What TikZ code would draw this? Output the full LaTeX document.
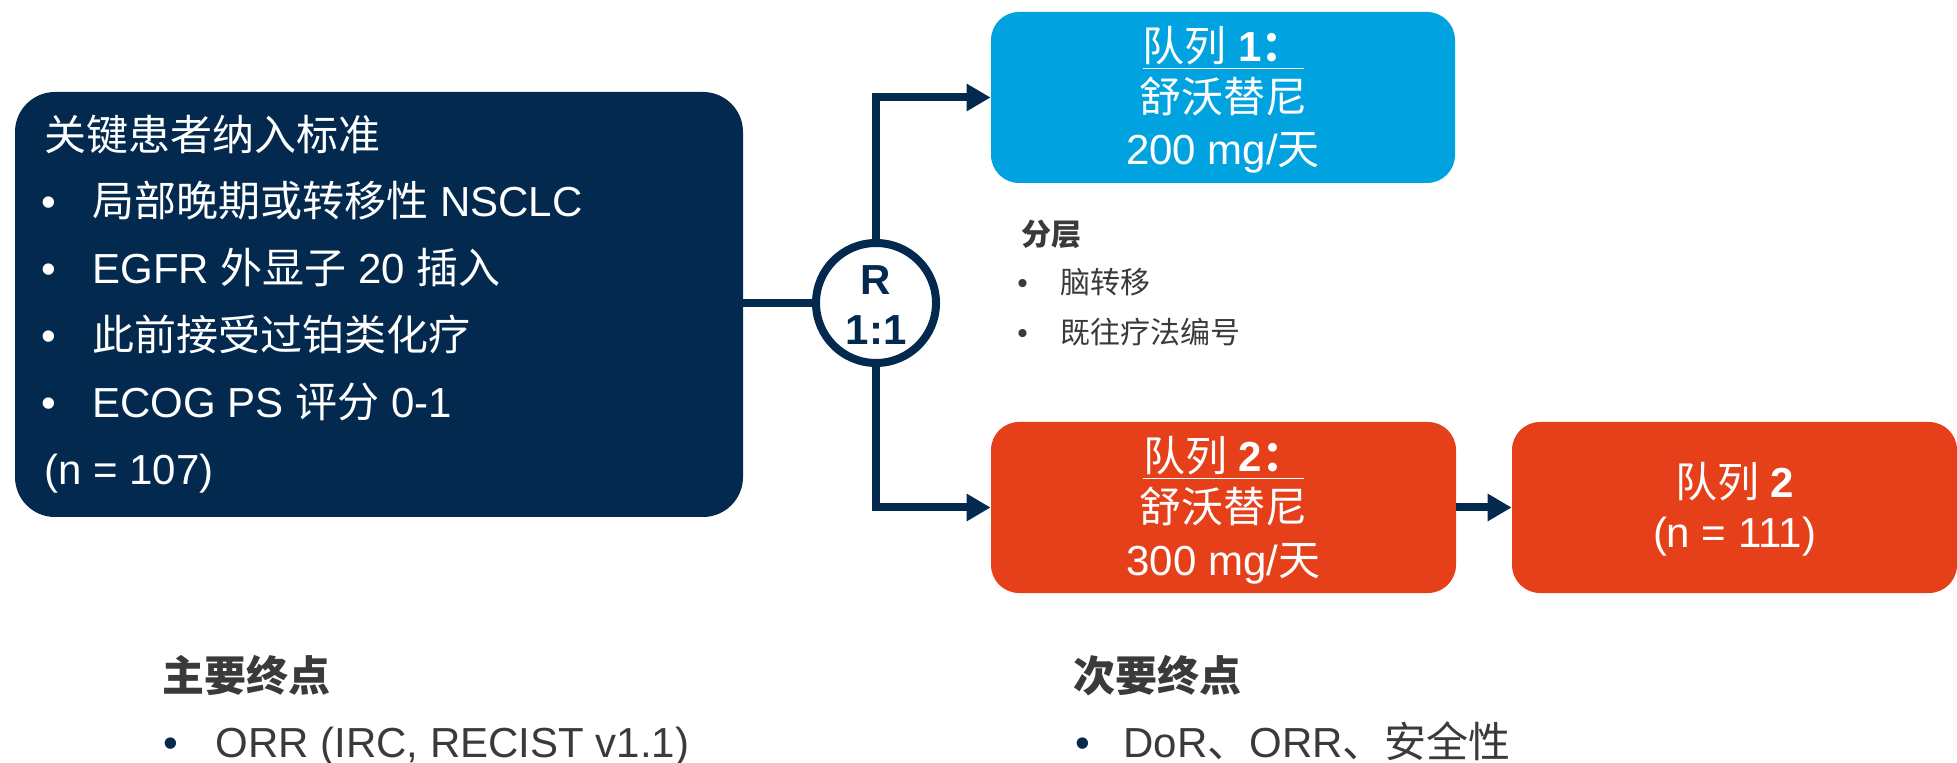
\documentclass[tikz,border=0pt]{standalone}
\usepackage{fontspec}
\setmainfont{Liberation Sans}
\newfontfamily\cjkf{Noto Sans CJK SC}
\newcommand{\cj}[1]{{\cjkf #1}}
\newcommand{\myfs}[1]{\fontsize{#1}{#1}\selectfont}
\usetikzlibrary{arrows.meta}
\definecolor{navy}{HTML}{03294F}
\definecolor{sky}{HTML}{00A3E0}
\definecolor{orng}{HTML}{E5401A}
\definecolor{txtgray}{HTML}{3A3A3A}
\begin{document}
\begin{tikzpicture}[x=0.5pt,y=-0.5pt,
  box/.style={rounded corners=14pt, inner sep=0pt, draw=none},
  conn/.style={draw=navy, line width=4pt},
  arr/.style={conn, -{Triangle[length=12pt,width=13pt]}},
  wt/.style={text=white, font=\myfs{21}, inner sep=0pt, anchor=base},
  lt/.style={text=white, font=\myfs{21}, inner sep=0pt, anchor=base west},
  gt/.style={text=txtgray, inner sep=0pt, anchor=base west},
  ct/.style={text=navy, font=\myfs{21}\bfseries, inner sep=0pt, anchor=base}]
\useasboundingbox (0,0) rectangle (1957,763);

% boxes
\node[box, fill=navy, rounded corners=20pt, minimum width=364pt, minimum height=212.5pt] (L) at (379,304.5) {};
\node[box, fill=sky, minimum width=232pt, minimum height=85.5pt] (B1) at (1223,97.5) {};
\node[box, fill=orng, minimum width=232.5pt, minimum height=85.5pt] (B2) at (1223.5,507.5) {};
\node[box, fill=orng, minimum width=222.5pt, minimum height=85.5pt] (B3) at (1734.5,507.5) {};
\node[circle, draw=navy, line width=4pt, fill=white, minimum size=60pt, inner sep=0pt] (C) at (876,303) {};

% connectors
\draw[conn] (L.east |- C.west) -- (C.west);
\draw[arr] (C.north) |- (B1.west);
\draw[arr] (C.south) |- (B2.west);
\draw[arr] (B2.east) -- (B3.west);

% left box text
\node[lt] (l0) at (44,151) {\cj{关键患者纳入标准}};
\node[lt] (l1) at (41,217) {\makebox[25.5pt][l]{\textbullet}\cj{局部晚期或转移性} NSCLC};
\node[lt] (l2) at (41,284) {\makebox[25.5pt][l]{\textbullet}EGFR \cj{外显子} 20 \cj{插入}};
\node[lt] (l3) at (41,351) {\makebox[25.5pt][l]{\textbullet}\cj{此前接受过铂类化疗}};
\node[lt] (l4) at (41,418) {\makebox[25.5pt][l]{\textbullet}ECOG PS \cj{评分} 0-1};
\node[lt] (l5) at (44,485) {(n = 107)};

% circle text
\node[ct] (r1) at (876,295) {R};
\node[ct] (r2) at (876,345) {1:1};

% box 1
\node[wt] (b1a) at (1223,62) {\underline{\cj{队列} \textbf{1\cj{：}}}};
\node[wt] (b1b) at (1223,113) {\cj{舒沃替尼}};
\node[wt] (b1c) at (1223,165) {200 mg/\cj{天}};

% box 2
\node[wt] (b2a) at (1223.5,472) {\underline{\cj{队列} \textbf{2\cj{：}}}};
\node[wt] (b2b) at (1223.5,523) {\cj{舒沃替尼}};
\node[wt] (b2c) at (1223.5,575) {300 mg/\cj{天}};

% box 3
\node[wt] (b3a) at (1734.5,498) {\cj{队列} \textbf{2}};
\node[wt] (b3b) at (1734.5,547) {(n = 111)};

% stratification
\node[gt, font=\myfs{15}\bfseries] (s0) at (1021,246) {\cj{分层}};
\node[gt, font=\myfs{15}] (s1) at (1017,294) {\makebox[21.5pt][l]{\textbullet}\cj{脑转移}};
\node[gt, font=\myfs{15}] (s2) at (1017,344) {\makebox[21.5pt][l]{\textbullet}\cj{既往疗法编号}};

% endpoints
\node[gt, font=\myfs{21}\bfseries] (e1) at (162,691) {\cj{主要终点}};
\node[gt, font=\myfs{21}] (e2) at (163,757) {\makebox[26pt][l]{\textcolor{navy}{\textbullet}}ORR (IRC, RECIST v1.1)};
\node[gt, font=\myfs{21}\bfseries] (e3) at (1073,691) {\cj{次要终点}};
\node[gt, font=\myfs{21}] (e4) at (1075,757) {\makebox[24pt][l]{\textcolor{navy}{\textbullet}}DoR\cj{、}ORR\cj{、安全性}};
\end{tikzpicture}
\end{document}
